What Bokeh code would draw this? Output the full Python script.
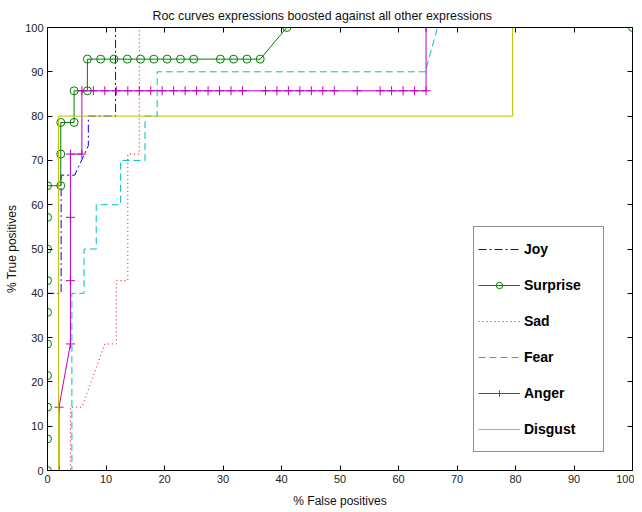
from bokeh.plotting import figure
from bokeh.models import Range1d, FixedTicker, LinearAxis, Legend, LegendItem, Title
from bokeh.embed import file_html
from bokeh.resources import INLINE

# ---- data ----
ticks = [0, 10, 20, 30, 40, 50, 60, 70, 80, 90, 100]
title_text = "Roc curves expressions boosted against all other expressions"

joy_x = [0, 0, 2.33, 2.33, 4.65, 6.98, 6.98, 11.63, 11.63, 100]
joy_y = [0, 40, 40, 66.67, 66.67, 73.33, 80, 80, 100, 100]

surprise_x = [0, 0, 0, 0, 0, 0, 0, 0, 0, 0,
              2.27, 2.27, 2.27, 4.55, 4.55, 6.82, 6.82,
              9.09, 11.36, 13.64, 15.91, 18.18, 20.45, 22.73, 25.0,
              29.55, 31.82, 34.09, 36.36, 40.91, 100]
surprise_y = [0, 7.14, 14.29, 21.43, 28.57, 35.71, 42.86, 50.0, 57.14, 64.29,
              64.29, 71.43, 78.57, 78.57, 85.71, 85.71, 92.86,
              92.86, 92.86, 92.86, 92.86, 92.86, 92.86, 92.86, 92.86,
              92.86, 92.86, 92.86, 92.86, 100, 100]

sad_x = [0, 3.92, 3.92, 5.88, 9.80, 11.76, 11.76, 13.73, 13.73, 15.69, 15.69, 100]
sad_y = [0, 0, 14.29, 14.29, 28.57, 28.57, 42.86, 42.86, 71.43, 71.43, 100, 100]

fear_x = [0, 4.17, 4.17, 6.25, 6.25, 8.33, 8.33, 12.5, 12.5, 16.67, 16.67,
          18.75, 18.75, 64.58, 66.67, 100]
fear_y = [0, 0, 40, 40, 50, 50, 60, 60, 70, 70, 80, 80, 90, 90, 100, 100]

anger_x = [0, 1.96, 1.96, 3.92, 3.92, 3.92, 3.92, 5.88, 5.88,
           7.84, 9.80, 11.76, 13.73, 15.69, 17.65, 19.61, 21.57, 23.53, 25.49,
           27.45, 29.41, 31.37, 33.33, 37.25, 39.22, 41.18, 43.14, 45.10, 47.06,
           49.02, 52.94, 56.86, 58.82, 60.78, 62.75, 64.71, 64.71, 100]
anger_y = [0, 0, 14.29, 28.57, 42.86, 57.14, 71.43, 71.43, 85.71,
           85.71, 85.71, 85.71, 85.71, 85.71, 85.71, 85.71, 85.71, 85.71, 85.71,
           85.71, 85.71, 85.71, 85.71, 85.71, 85.71, 85.71, 85.71, 85.71, 85.71,
           85.71, 85.71, 85.71, 85.71, 85.71, 85.71, 85.71, 100, 100]

disgust_x = [0, 1.89, 1.89, 79.5, 79.5, 100]
disgust_y = [0, 0, 80, 80, 100, 100]

FONT = "Liberation Sans"

p = figure(width=634, height=510, output_backend="svg", toolbar_location=None,
           x_range=Range1d(0, 100), y_range=Range1d(0, 100),
           min_border_left=47, min_border_right=2, min_border_top=27, min_border_bottom=40,
           x_axis_label="% False positives", y_axis_label="% True positives")

p.title = Title(text=title_text, align="left", vertical_align="top",
                text_font=FONT, text_font_size="12.4px", text_font_style="normal",
                text_color="#111111", standoff=6, offset=105)

p.background_fill_color = "white"
p.border_fill_color = "white"
p.outline_line_color = "black"
p.outline_line_width = 1
p.xgrid.visible = False
p.ygrid.visible = False

for ax in (p.xaxis[0], p.yaxis[0]):
    ax.ticker = FixedTicker(ticks=ticks)
    ax.major_tick_in = 5
    ax.major_tick_out = 0
    ax.minor_tick_in = 0
    ax.minor_tick_out = 0
    ax.major_label_standoff = 4
    ax.axis_line_color = "black"
    ax.major_tick_line_color = "black"
    ax.major_label_text_font = FONT
    ax.major_label_text_font_size = "11px"
    ax.major_label_text_color = "#222222"
    ax.axis_label_text_font = FONT
    ax.axis_label_text_font_size = "12px"
    ax.axis_label_text_font_style = "normal"
    ax.axis_label_text_color = "#111111"
p.xaxis[0].axis_label_standoff = 8
p.yaxis[0].axis_label_standoff = 3

for loc in ("above", "right"):
    ax = LinearAxis(ticker=FixedTicker(ticks=ticks))
    ax.major_tick_in = 5
    ax.major_tick_out = 0
    ax.minor_tick_in = 0
    ax.minor_tick_out = 0
    ax.major_label_standoff = 0
    ax.major_label_overrides = {t: "" for t in ticks}
    ax.major_label_text_font_size = "0px"
    ax.axis_line_color = "black"
    ax.major_tick_line_color = "black"
    p.add_layout(ax, loc)

r_joy = p.line(joy_x, joy_y, line_color="#0000ff", line_width=1, line_dash="8 3 2 3")
r_sur = p.line(surprise_x, surprise_y, line_color="#008000", line_width=1)
r_sur_m = p.scatter(surprise_x, surprise_y, marker="circle", size=8,
                    fill_color=None, line_color="#008000", line_width=1)
r_sad = p.line(sad_x, sad_y, line_color="#ff0000", line_width=1, line_dash="1 3")
r_fear = p.line(fear_x, fear_y, line_color="#00bfbf", line_width=1, line_dash="7 4")
r_ang = p.line(anger_x, anger_y, line_color="#bf00bf", line_width=1)
r_ang_m = p.scatter(anger_x, anger_y, marker="cross", size=9,
                    line_color="#bf00bf", line_width=1)
r_dis = p.line(disgust_x, disgust_y, line_color="#bfbf00", line_width=1)

legend = Legend(items=[
    LegendItem(label="Joy", renderers=[r_joy]),
    LegendItem(label="Surprise", renderers=[r_sur, r_sur_m]),
    LegendItem(label="Sad", renderers=[r_sad]),
    LegendItem(label="Fear", renderers=[r_fear]),
    LegendItem(label="Anger", renderers=[r_ang, r_ang_m]),
    LegendItem(label="Disgust", renderers=[r_dis]),
], location=(426, 18))
legend.label_text_font = FONT
legend.label_text_font_style = "bold"
legend.label_text_font_size = "14px"
legend.label_text_color = "black"
legend.glyph_width = 42
legend.glyph_height = 16
legend.label_height = 36
legend.label_width = 75
legend.label_standoff = 4
legend.spacing = 0
legend.padding = 4
legend.margin = 0
legend.border_line_color = "#222222"
legend.border_line_width = 1
legend.background_fill_color = "white"
legend.background_fill_alpha = 1
p.add_layout(legend, "center")

open("out.html", "w").write(file_html(p, INLINE))
